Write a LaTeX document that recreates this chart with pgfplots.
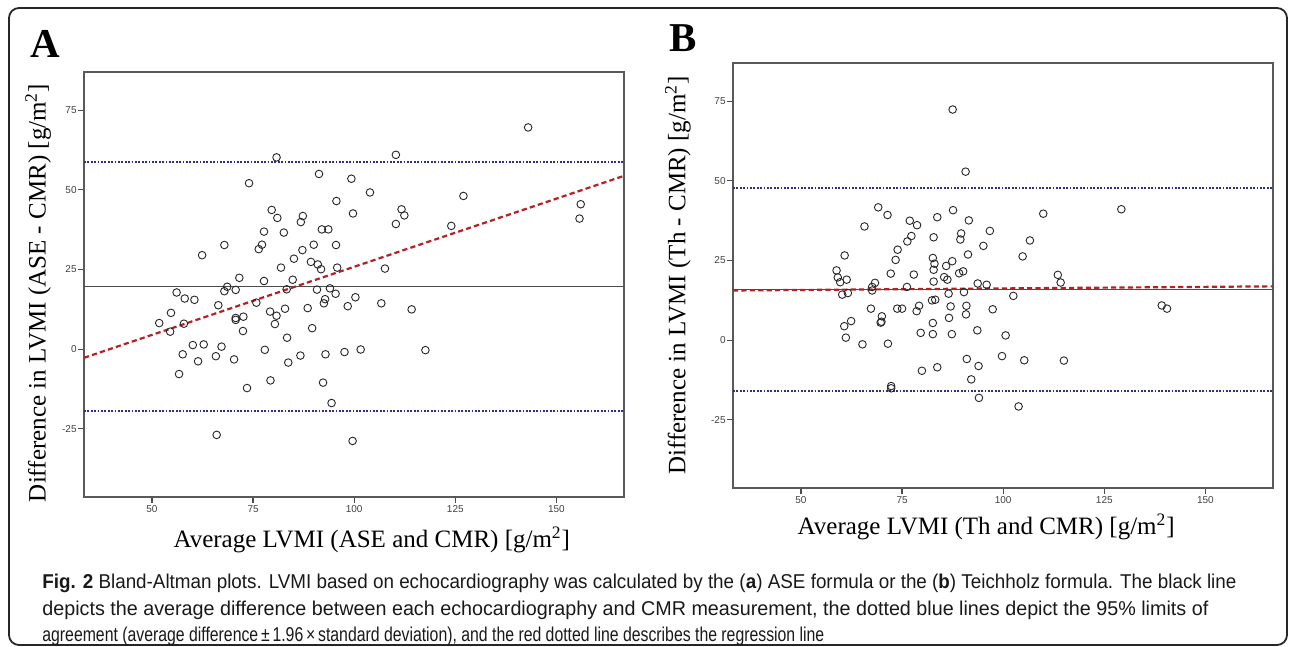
\documentclass[border=0pt]{standalone}
\usepackage{fontspec}
\usepackage{graphicx}
\setmainfont{Liberation Serif}
\newfontfamily\capfont[FakeStretch=0.94]{Liberation Sans}
\newfontfamily\tickfont{Liberation Sans}
\usepackage{pgfplots}
\usepackage{pgfplotstable}
\pgfplotsset{compat=1.18}

\definecolor{limblue}{RGB}{45,45,140}
\definecolor{regred}{RGB}{185,30,35}

% Bland-Altman points, ASE formula (mean, difference)
\pgfplotstableread{
x y
143 69.6
80.8 60.2
110.3 61
91.3 55
74 52.1
99.3 53.5
103.9 49.2
127 48.1
156 45.5
155.7 41
95.6 46.5
79.6 43.7
81 41.2
87.3 41.8
86.8 39.9
99.7 42.6
111.7 43.9
112.4 42
110.3 39.3
124 38.7
77.7 36.9
82.6 36.6
92 37.6
93.6 37.6
67.9 32.7
76.4 31.4
77.2 32.8
87.2 31.1
90 32.8
95.5 32.7
62.4 29.5
85.1 28.4
89.3 27.4
91 26.6
95.8 25.6
81.9 25.6
91.8 25.1
107.6 25.3
71.6 22.4
77.7 21.4
84.8 21.8
68.6 19.6
67.9 18.2
70.7 18.6
83.3 18.8
90.8 18.7
94 19.1
95.4 17.4
56.1 17.8
58.1 15.9
60.5 15.5
100.3 16.3
92.8 15.7
92.5 14.4
75.8 14.6
106.7 14.4
66.4 13.8
98.4 13.5
82.9 12.7
88.5 12.9
114.2 12.5
54.7 11.4
79.2 11.8
51.8 8.2
57.9 8
70.7 9.8
70.7 9.2
72.6 10.2
80.8 10.5
80.4 7.9
54.5 5.5
72.5 5.7
89.6 6.6
83.4 3.6
60.1 1.3
62.8 1.5
67.2 0.8
77.9 -0.2
101.6 -0.1
117.6 -0.3
57.6 -1.6
65.8 -2.2
70.3 -3.2
86.7 -2
92.9 -1.6
97.6 -0.9
61.4 -3.8
83.7 -4.2
56.7 -7.8
73.5 -12.2
79.3 -9.8
92.3 -10.5
94.4 -16.9
66 -26.9
99.6 -28.8
}\aseData

% Teichholz formula
\pgfplotstableread{
x y
87.5 72.4
90.7 52.9
129.2 41.1
69.1 41.7
87.6 40.8
71.4 39.3
109.9 39.7
83.7 38.6
76.9 37.5
91.5 37.6
78.7 36.1
65.7 35.7
89.6 33.5
96.7 34.3
77.3 32.7
82.8 32.3
89.4 31.6
76.3 31
106.6 31.3
95.1 29.6
73.9 28.4
60.8 26.6
91.3 26.9
104.8 26.3
82.6 25.8
73.4 25.2
87.4 24.8
83 24
85.9 23.3
58.8 21.9
82.8 22.1
59.1 19.7
61.3 19
59.7 18.2
72.2 20.9
77.9 20.6
85.4 19.8
86.2 19
89.1 21
90.1 21.6
113.5 20.5
114.2 18.1
82.8 18.4
93.7 17.8
95.9 17.4
68.3 18
67.6 16.7
67.6 15.6
76.2 16.7
60.2 14.3
61.6 14.8
86.5 14.6
90.3 15.1
102.5 13.9
67.3 9.9
73.8 9.9
75 9.9
78.6 9.1
79.2 10.8
82.4 12.5
83.2 12.7
87 10.6
90.9 10.8
97.4 9.7
90.8 8.1
86.6 7
70 7.5
69.7 5.5
69.9 5.8
62.4 6
60.7 4.4
82.6 5.4
93.6 3.1
79.6 2.3
82.6 1.9
87.3 1.9
100.6 1.5
61.1 0.8
65.2 -1.3
71.5 -1.1
91 -5.9
99.7 -5
105.2 -6.3
115 -6.4
93.9 -8.1
79.9 -9.6
83.7 -8.5
92.1 -12.3
72.3 -14.4
72.3 -15.1
94 -18.1
103.8 -20.8
139.2 10.9
140.5 9.9
}\thData

\pgfplotsset{
  ba/.style={
    scale only axis, width=270pt, height=212.5pt,
    xmin=33.2, xmax=166.7, ymin=-46.4, ymax=87,
    xtick={50,75,100,125,150}, ytick={-25,0,25,50,75},
    tick pos=left, tick align=outside, major tick length=3pt,
    tick style={black!70, line width=0.6pt},
    axis line style={black!65, line width=0.7pt},
    tick label style={font=\tickfont\fontsize{5}{6}\selectfont, text=black!75},
    /pgf/number format/assume math mode=true,
    yticklabel style={inner sep=0.5pt},
    xticklabel style={inner sep=1pt},
    label style={font=\fontsize{12.5}{14}\selectfont},
  },
  pts/.style={only marks, mark=o, mark size=1.9pt,
    mark options={black!85, line width=0.45pt}},
  limit/.style={limblue, line width=1pt, dash pattern=on 0.9pt off 0.8pt},
  regr/.style={regred, line width=1.1pt, dash pattern=on 2.6pt off 1.6pt},
  meanl/.style={black!70, line width=0.5pt},
}

\begin{document}
\begin{tikzpicture}
\path[use as bounding box] (0,0) rectangle (645pt,-323.5pt);
\draw[rounded corners=5pt, line width=0.9pt, black!85] (4.5pt,-4pt) rectangle (643.5pt,-322.5pt);

\node[font=\bfseries\fontsize{20.5}{22}\selectfont] at (22.5pt,-22pt) {A};
\node[font=\bfseries\fontsize{20.5}{22}\selectfont] at (341.5pt,-19pt) {B};

\begin{axis}[ba, at={(42pt,-36pt)}, anchor=north west,
    xlabel={Average LVMI (ASE and CMR) [g/m\textsuperscript{2}]},
    ylabel={Difference in LVMI (ASE - CMR) [g/m\textsuperscript{2}]},
    xlabel style={at={(axis description cs:0.533,-0.101)}, anchor=center},
    ylabel style={at={(axis description cs:-0.085,0.48)}, anchor=center}]
\addplot[pts] table {\aseData};
\addplot[meanl] coordinates {(33.2,19.8) (166.7,19.8)};
\addplot[limit] coordinates {(33.2,58.9) (166.7,58.9)};
\addplot[limit] coordinates {(33.2,-19.3) (166.7,-19.3)};
\addplot[regr] coordinates {(33.2,-2.7) (166.7,54.4)};
\end{axis}

\begin{axis}[ba, at={(366.5pt,-31.5pt)}, anchor=north west,
    xlabel={Average LVMI (Th and CMR) [g/m\textsuperscript{2}]},
    ylabel={Difference in LVMI (Th - CMR) [g/m\textsuperscript{2}]},
    xlabel style={at={(axis description cs:0.469,-0.092)}, anchor=center},
    ylabel style={at={(axis description cs:-0.102,0.5)}, anchor=center}]
\addplot[pts] table {\thData};
\addplot[meanl] coordinates {(33.2,15.95) (166.7,15.95)};
\addplot[limit] coordinates {(33.2,47.9) (166.7,47.9)};
\addplot[limit] coordinates {(33.2,-16.0) (166.7,-16.0)};
\addplot[regr] coordinates {(33.2,15.6) (166.7,16.9)};
\end{axis}

\begin{scope}[every node/.style={anchor=west, inner sep=0pt,
    font=\capfont\fontsize{10}{12}\selectfont, text=black!90}]
\node at (21pt,-291.5pt) {\resizebox{597pt}{\height}{\textbf{Fig. 2} Bland-Altman plots. LVMI based on echocardiography was calculated by the (\textbf{a}) ASE formula or the (\textbf{b}) Teichholz formula. The black line}};
\node at (21pt,-305pt) {\resizebox{583pt}{\height}{depicts the average difference between each echocardiography and CMR measurement, the dotted blue lines depict the 95\% limits of}};
\node at (21pt,-318pt) {\resizebox{391pt}{\height}{agreement (average difference\,±\,1.96\,×\,standard deviation), and the red dotted line describes the regression line}};
\end{scope}
\end{tikzpicture}
\end{document}
